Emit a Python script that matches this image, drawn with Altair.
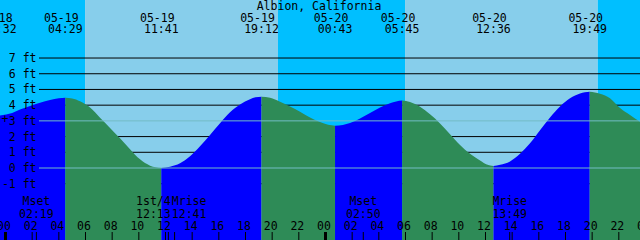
import altair as alt
import pandas as pd

TITLE = "Albion, California"
FONT = "DejaVu Sans Mono"

# ---- tide extremes (date, time, kind, height in ft) ----
tide_dates = ["05-18", "05-19", "05-19", "05-19", "05-20", "05-20", "05-20", "05-20"]
tide_times = ["23:32", "04:29", "11:41", "19:12", "00:43", "05:45", "12:36", "19:49"]
tide_kind = ["L", "H", "L", "H", "L", "H", "L", "H"]
tide_ft = [3.33, 4.47, 0.00, 4.54, 2.69, 4.29, 0.13, 4.86]

# ---- tide curve readings (hours after 05-19 00:00, ft) ----
curve_h = [-0.41, 0.50, 1.09, 1.84, 2.59, 3.34, 4.00, 5.00, 5.59, 6.34, 7.09, 7.84,
           8.59, 9.34, 10.09, 10.84, 12.34, 13.09, 13.84, 14.59, 15.34, 16.09, 16.84,
           17.59, 18.34, 18.75, 19.84, 20.59, 21.34, 22.09, 22.84, 23.59, 24.20, 25.30,
           25.84, 26.59, 27.34, 28.09, 28.84, 29.30, 30.34, 31.09, 31.84, 32.59, 33.34,
           34.09, 34.84, 35.59, 36.10, 37.10, 37.84, 38.59, 39.34, 40.09, 40.84, 41.59,
           42.34, 43.09, 44.59, 45.34, 46.09, 46.84, 47.59]
curve_ft = [3.34, 3.50, 3.72, 3.95, 4.15, 4.33, 4.44, 4.43, 4.25, 3.85, 3.20, 2.55,
            1.89, 1.20, 0.55, 0.15, 0.08, 0.30, 0.75, 1.38, 2.10, 2.85, 3.55,
            4.05, 4.38, 4.50, 4.47, 4.22, 3.92, 3.58, 3.22, 2.93, 2.75, 2.74,
            2.86, 3.15, 3.50, 3.85, 4.12, 4.24, 4.20, 3.90, 3.42, 2.84, 2.15,
            1.46, 0.90, 0.48, 0.22, 0.20, 0.42, 0.90, 1.57, 2.40, 3.22, 3.92,
            4.44, 4.75, 4.73, 4.44, 3.82, 3.38, 2.95]

# ---- sun events ----
sun_dates = ["05-19", "05-19", "05-20", "05-20"]
sun_times = ["05:58", "20:26", "05:58", "20:25"]

# ---- moon events ----
moon_dates = ["05-19", "05-19", "05-19", "05-20", "05-20"]
moon_times = ["02:19", "12:13", "12:41", "02:50", "13:49"]
moon_names = ["Mset", "1st/4", "Mrise", "Mset", "Mrise"]

# ---- axis labels ----
ft_levels = [-1, 0, 1, 2, 3, 4, 5, 6, 7]
hour_marks = [0, 2, 4, 6, 8, 10, 12, 14, 16, 18, 20, 22, 24, 26, 28, 30, 32, 34,
              36, 38, 40, 42, 44, 46, 48]

# ---- layout constants ----
W, H = 640, 240
PX_PER_H = 13.333
X0 = 5.5
XMIN = -X0 / PX_PER_H
XMAX = (W - X0) / PX_PER_H
PX_PER_FT = 15.71
Y0 = 168.0
YMAX = Y0 / PX_PER_FT
YMIN = -(H - Y0) / PX_PER_FT

NIGHT, DAY = "#00BFFF", "#87CEEB"
RISE, FALL = "#0000FF", "#2E8B57"
MARK_LINE = "#72bcc6"

DAY_OFFSET = {"05-18": -24, "05-19": 0, "05-20": 24}


def to_h(d, t):
    hh, mm = t.split(":")
    return DAY_OFFSET[d] + int(hh) + int(mm) / 60.0


# tide curve table, split into rising / falling segments
ext_h = [to_h(d, t) for d, t in zip(tide_dates, tide_times)]
rows = []
for h, f in zip(curve_h, curve_ft):
    seg = sum(1 for e in ext_h if e < h)
    rows.append((h, f, seg))
for i, (h, f) in enumerate(zip(ext_h, tide_ft)):
    rows.append((h, f, i))
    rows.append((h, f, i + 1))
curve_rows = []
for h, f, seg in rows:
    if seg < len(tide_kind):
        col = RISE if tide_kind[seg] == "H" else FALL
    else:
        col = FALL if tide_kind[-1] == "H" else RISE
    curve_rows.append({"h": h, "ft": f, "seg": seg, "col": col})
curve_df = pd.DataFrame(curve_rows)

# sky intervals
sun_h = [to_h(d, t) for d, t in zip(sun_dates, sun_times)]
bounds = [XMIN - 1] + sun_h + [XMAX + 1]
sky_df = pd.DataFrame([
    {"h": bounds[i], "h2": bounds[i + 1], "col": NIGHT if i % 2 == 0 else DAY}
    for i in range(len(bounds) - 1)
])

grid_df = pd.DataFrame({"ft": [v for v in ft_levels if v not in (0, 3)]})
mark_df = pd.DataFrame({"ft": [0, 3]})
ylab_df = pd.DataFrame({"ft": ft_levels, "label": [f"{v} ft" for v in ft_levels]})

tide_lab_df = pd.DataFrame({"h": ext_h, "date": tide_dates, "time": tide_times})

hours_df = pd.DataFrame({"h": hour_marks, "label": [f"{v % 24:02d}" for v in hour_marks]})
hour_tick_df = hours_df[hours_df["h"] % 24 != 0]
midnight_df = hours_df[hours_df["h"] % 24 == 0]

moon_shift = [0, -15, 14.5, 0, 0]
moon_df = pd.DataFrame({
    "h": [to_h(d, t) for d, t in zip(moon_dates, moon_times)],
    "name": moon_names, "time": moon_times,
})

xs = alt.Scale(domain=[XMIN, XMAX], nice=False, zero=False)
ys = alt.Scale(domain=[YMIN, YMAX], nice=False, zero=False)
X = alt.X("h:Q", scale=xs, axis=None)
Y = alt.Y("ft:Q", scale=ys, axis=None, stack=False)

sky = alt.Chart(sky_df).mark_rect(clip=True).encode(
    x=X, x2="h2:Q", y=alt.value(0), y2=alt.value(H),
    color=alt.Color("col:N", scale=None))

grid = alt.Chart(grid_df).mark_rule(color="black", strokeWidth=1).encode(
    y=Y, x=alt.value(39), x2=alt.value(W))

tide = alt.Chart(curve_df).mark_area(interpolate="monotone", clip=True).encode(
    x=X, y=Y, y2=alt.value(H), color=alt.Color("col:N", scale=None), detail="seg:N")

marks = alt.Chart(mark_df).mark_rule(color=MARK_LINE, strokeWidth=1).encode(
    y=Y, x=alt.value(39), x2=alt.value(W))

txt = dict(font=FONT, fontSize=11.5, color="black", baseline="alphabetic", clip=True)

ylab = alt.Chart(ylab_df).mark_text(align="right", dy=4, **txt).encode(
    x=alt.value(36.5), y=Y, text="label:N")

plus = alt.Chart(pd.DataFrame({"ft": [3.1], "t": ["+"]})).mark_text(
    align="center", dy=4, **txt).encode(x=alt.value(5), y=Y, text="t:N")

title = alt.Chart(pd.DataFrame({"t": [TITLE]})).mark_text(align="center", **txt).encode(
    x=alt.value(319), y=alt.value(10), text="t:N")

tdate = alt.Chart(tide_lab_df).mark_text(align="center", dx=-4, **txt).encode(
    x=X, y=alt.value(22), text="date:N")
ttime = alt.Chart(tide_lab_df).mark_text(align="center", **txt).encode(
    x=X, y=alt.value(33), text="time:N")

hlab = alt.Chart(hours_df).mark_text(align="center", dx=-1.5, **txt).encode(
    x=X, y=alt.value(230), text="label:N")
hticks = alt.Chart(hour_tick_df).mark_rule(color="black", strokeWidth=1).encode(
    x=X, y=alt.value(232), y2=alt.value(H))
mticks = alt.Chart(midnight_df).mark_rule(color="black", strokeWidth=3).encode(
    x=X, y=alt.value(232), y2=alt.value(H))
moon_ticks = alt.Chart(moon_df).mark_rule(color="black", strokeWidth=1).encode(
    x=X, y=alt.value(232), y2=alt.value(H))

moon_layers = []
for i in range(len(moon_df)):
    sub = moon_df.iloc[[i]]
    moon_layers.append(alt.Chart(sub).mark_text(align="center", dx=moon_shift[i], **txt).encode(
        x=X, y=alt.value(205), text="name:N"))
    moon_layers.append(alt.Chart(sub).mark_text(align="center", dx=moon_shift[i], **txt).encode(
        x=X, y=alt.value(218), text="time:N"))

chart = alt.layer(
    sky, grid, tide, marks, hticks, mticks, moon_ticks,
    ylab, plus, title, tdate, ttime, hlab, *moon_layers
).properties(
    width=W, height=H, padding=0, autosize="none", background="white"
).configure_view(strokeWidth=0)

chart.save("out.html", embed_options={"renderer": "svg", "actions": False})
